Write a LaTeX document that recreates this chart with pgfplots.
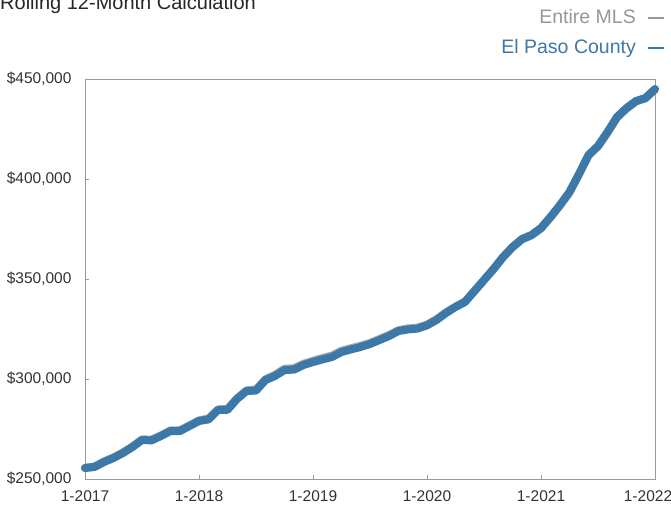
\documentclass[border=0pt]{standalone}
\usepackage{pgfplots}
\pgfplotsset{compat=1.18}
\usepackage{pgfplotstable}
\usepackage{fontspec}
\setmainfont{Liberation Sans}
\definecolor{epblue}{HTML}{3C78A8}
\definecolor{mlsgray}{HTML}{A8A8A8}
\definecolor{labgray}{HTML}{333333}
\definecolor{framegray}{HTML}{9A9A9A}
\pgfplotstableread{
m v
0 255500
1 256000
2 258500
3 260500
4 263000
5 266000
6 269500
7 269300
8 271500
9 274000
10 274000
11 276500
12 279000
13 279800
14 284500
15 284600
16 290000
17 294000
18 294200
19 299500
20 301500
21 304500
22 304700
23 307000
24 308500
25 309800
26 311000
27 313500
28 314800
29 316000
30 317500
31 319500
32 321500
33 324000
34 324800
35 325200
36 326800
37 329500
38 333000
39 336000
40 338500
41 344000
42 349500
43 355000
44 361000
45 366000
46 370000
47 372000
48 375500
49 381000
50 387000
51 393500
52 402500
53 412000
54 416500
55 423500
56 431000
57 435500
58 439000
59 440500
60 445000
}\elpaso
\pgfplotstableread{
m v
0 255600
1 256200
2 258800
3 260800
4 263300
5 266300
6 269800
7 269700
8 271800
9 274300
10 274400
11 276800
12 279300
13 280300
14 284800
15 285100
16 290300
17 294300
18 294800
19 299900
20 302100
21 305100
22 305400
23 307600
24 309100
25 310500
26 311700
27 314100
28 315400
29 316600
30 318000
31 320000
32 322000
33 324400
34 325300
35 325700
36 327200
37 329900
38 333300
39 336200
40 338700
41 344100
42 349500
43 354900
44 360800
45 365800
46 369800
47 371800
48 375300
49 380800
50 386800
51 393300
52 402300
53 411700
54 416300
55 423100
56 430600
57 435100
58 438700
59 440300
60 444800
}\mls
\begin{document}
\begin{tikzpicture}[x=1pt,y=1pt]
\begin{axis}[
  at={(0,0)}, anchor=south west,
  scale only axis, width=570pt, height=400pt,
  xmin=0, xmax=60, ymin=250000, ymax=450000,
  xtick={0,12,24,36,48,60},
  xticklabels={1-2017,1-2018,1-2019,1-2020,1-2021,{1-2022\hspace*{14pt}}},
  ytick={250000,300000,350000,400000,450000},
  yticklabels={{\$250,000},{\$300,000},{\$350,000},{\$400,000},{\$450,000}},
  scaled ticks=false,
  axis line style={framegray, line width=0.6pt},
  tick style={framegray, line width=0.5pt},
  major tick length=4pt,
  tick align=inside,
  xtick pos=bottom, ytick pos=left,
  ticklabel style={font=\fontsize{15.5}{18}\selectfont, text=labgray},
  yticklabel style={xshift=-10pt},
  xticklabel style={yshift=-8pt},
  /pgf/number format/assume math mode=true,
  clip=false,
]
\addplot[mlsgray, line width=8pt, line join=round, line cap=round] table[x=m,y=v]{\mls};
\addplot[epblue, line width=8pt, line join=round, line cap=round] table[x=m,y=v]{\elpaso};
\end{axis}
\node[anchor=base west, inner sep=0pt, font=\fontsize{20}{24}\selectfont, text=black!85] at (-85pt,469pt) {Rolling 12-Month Calculation};
\node[anchor=base east, inner sep=0pt, font=\fontsize{19.5}{24}\selectfont, text=mlsgray!90!black] at (551pt,455pt) {Entire MLS};
\draw[mlsgray!90!black, line width=1.2pt] (563pt,461pt) -- (579pt,461pt);
\node[anchor=base east, inner sep=0pt, font=\fontsize{19.5}{24}\selectfont, text=epblue] at (551pt,425pt) {El Paso County};
\draw[epblue, line width=1.5pt] (563pt,431pt) -- (579pt,431pt);
\pgfresetboundingbox
\useasboundingbox (-85pt,-28pt) rectangle (586pt,479pt);
\end{tikzpicture}
\end{document}
